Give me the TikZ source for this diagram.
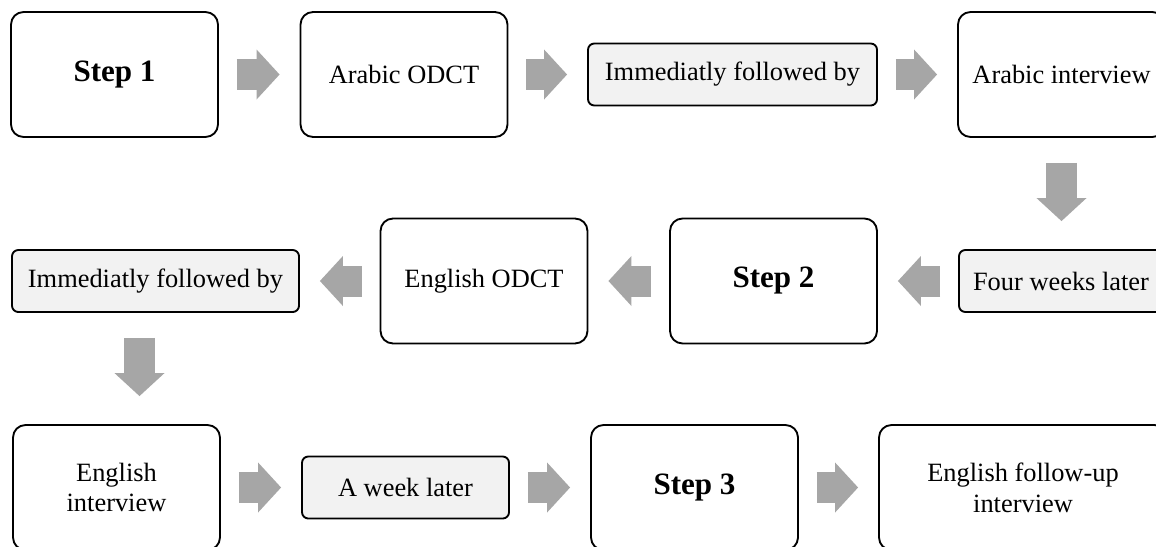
\documentclass[tikz,border=0pt]{standalone}
\usepackage{fontspec}
\setmainfont{Liberation Serif}
\usetikzlibrary{arrows.meta,calc}
\definecolor{arrowgray}{HTML}{A6A6A6}
\definecolor{boxgray}{HTML}{F2F2F2}
\begin{document}
\begin{tikzpicture}[x=0.75pt,y=-0.75pt,
  bigbox/.style={draw=black, line width=1.4pt, rounded corners=9.4pt, fill=white,
    minimum width=155.25pt, minimum height=93.75pt, align=center, inner sep=0pt,
    font=\fontsize{19.8}{23}\selectfont},
  stepbox/.style={bigbox, font=\fontsize{23.3}{27}\selectfont\bfseries},
  smallbox/.style={draw=black, line width=1.4pt, rounded corners=4.7pt, fill=boxgray,
    minimum height=46.5pt, align=center, inner sep=0pt,
    font=\fontsize{19.8}{23}\selectfont},
  harrow/.style={draw=arrowgray, line width=23.25pt,
    -{Triangle[length=17.25pt,width=37.5pt,line width=0pt]},
    shorten <=13.5pt, shorten >=15pt},
  varrow/.style={harrow, shorten <=18.75pt, shorten >=21pt},
]
\useasboundingbox (0,0) rectangle (1156,546);
\clip (0,0) rectangle (1156,546);
\fill[white] (0,0) rectangle (1156,546);

% row 1
\node[stepbox] (s1) at (114.5,74.5) {Step 1};
\node[bigbox] (aodct) at (404,74.5) {Arabic ODCT};
\node[smallbox, minimum width=216.75pt] (imm1) at (732.5,74.5) {Immediatly followed by};
\node[bigbox] (aint) at (1061.5,74.5) {Arabic interview};
% row 2
\node[smallbox, minimum width=153pt] (four) at (1061,281) {Four weeks later};
\node[stepbox] (s2) at (773.5,281) {Step 2};
\node[bigbox] (eodct) at (484,281) {English ODCT};
\node[smallbox, minimum width=215.25pt] (imm2) at (155.5,281) {Immediatly followed by};
% row 3
\node[bigbox] (eint) at (116.5,487.5) {English\\interview};
\node[smallbox, minimum width=155.25pt] (week) at (405.5,487.5) {A week later};
\node[stepbox] (s3) at (694.5,487.5) {Step 3};
\node[bigbox, minimum width=216pt] (efu) at (1023,487.5) {English follow-up\\interview};

% connectors
\draw[harrow] (s1.east) -- (aodct.west);
\draw[harrow] (aodct.east) -- (imm1.west);
\draw[harrow] (imm1.east) -- (aint.west);
\draw[varrow] (aint.south) -- (aint.south |- four.north);
\draw[harrow] (four.west) -- (s2.east);
\draw[harrow] (s2.west) -- (eodct.east);
\draw[harrow] (eodct.west) -- (imm2.east);
\path (imm2.south) ++(-16,0) coordinate (d2s);
\draw[varrow] (d2s) -- (d2s |- eint.north);
\draw[harrow] (eint.east) -- (week.west);
\draw[harrow] (week.east) -- (s3.west);
\draw[harrow] (s3.east) -- (efu.west);
\end{tikzpicture}
\end{document}
